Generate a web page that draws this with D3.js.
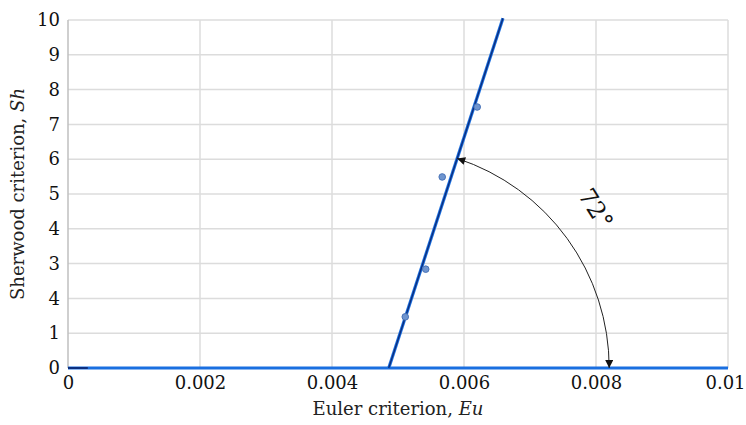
<!DOCTYPE html>
<html>
<head>
<meta charset="utf-8">
<script src="https://cdn.jsdelivr.net/npm/d3@7"></script>
<style>
  body { margin: 0; background: #fff; }
  svg text { font-family: "DejaVu Serif", serif; }
</style>
</head>
<body>
<svg id="chart" width="746" height="425"></svg>
<script>
// data
const xTicks = [0, 0.002, 0.004, 0.006, 0.008, 0.01];
const xTickLabels = ["0", "0.002", "0.004", "0.006", "0.008", "0.01"];
const yTicks = [0, 1, 2, 3, 4, 5, 6, 7, 8, 9, 10];
const yTickLabels = ["0", "1", "4", "3", "4", "5", "6", "7", "8", "9", "10"]; // as printed
const pointsEu = [0.00511, 0.00542, 0.00567, 0.00620];
const pointsSh = [1.47, 2.84, 5.49, 7.50];
const fitEu = [0.00486, 0.00659];
const fitSh = [0, 10.05];
const baseEu = [0, 0.01];
const baseSh = [0, 0];
const arcEndEu = 0.0082;   // where the angle arrow meets the x axis
const angleLabel = "72°";

const svg = d3.select("#chart");
const margin = {left: 68, right: 18, top: 20, bottom: 57};
const W = 746, H = 425;

const x = d3.scaleLinear().domain([0, 0.01]).range([margin.left, W - margin.right]);
const y = d3.scaleLinear().domain([0, 10]).range([H - margin.bottom, margin.top]);

// grid
svg.append("g").selectAll("line")
  .data(yTicks.slice(1))
  .join("line")
  .attr("x1", x(0)).attr("x2", x(0.01))
  .attr("y1", d => y(d)).attr("y2", d => y(d))
  .attr("stroke", "#dcdcdc").attr("stroke-width", 1.5);

svg.append("g").selectAll("line")
  .data(xTicks)
  .join("line")
  .attr("x1", d => x(d)).attr("x2", d => x(d))
  .attr("y1", y(0)).attr("y2", y(10))
  .attr("stroke", d => d === 0 ? "#bfbfbf" : "#dcdcdc").attr("stroke-width", 1.5);

// axes (labels only)
const xAxis = d3.axisBottom(x).tickValues(xTicks)
  .tickFormat((d, i) => xTickLabels[i]).tickSize(0).tickPadding(8);
svg.append("g").attr("transform", `translate(0,${y(0)})`).call(xAxis)
  .call(g => g.select(".domain").remove())
  .selectAll("text").attr("font-size", 18).attr("fill", "#111")
  .attr("font-family", "DejaVu Serif")
  .attr("dx", (d, i) => i === xTicks.length - 1 ? -3 : 0);

const yAxis = d3.axisLeft(y).tickValues(yTicks)
  .tickFormat((d, i) => yTickLabels[i]).tickSize(0).tickPadding(8);
svg.append("g").attr("transform", `translate(${x(0)},0)`).call(yAxis)
  .call(g => g.select(".domain").remove())
  .selectAll("text").attr("font-size", 18).attr("fill", "#111")
  .attr("font-family", "DejaVu Serif");

const line = d3.line().x(d => x(d[0])).y(d => y(d[1]));
const base = d3.zip(baseEu, baseSh);
const fit = d3.zip(fitEu, fitSh);

// series lines: blue under, navy trend on top
svg.append("path").datum(base).attr("d", line)
  .attr("fill", "none").attr("stroke", "#1a6fe0").attr("stroke-width", 3);
svg.append("path").datum(fit).attr("d", line)
  .attr("fill", "none").attr("stroke", "#1a6fe0").attr("stroke-width", 3.2);
svg.append("path").datum(fit).attr("d", line)
  .attr("fill", "none").attr("stroke", "#0b2f80").attr("stroke-width", 1.4);
svg.append("path").datum([[0, 0], [0.0003, 0]]).attr("d", line)
  .attr("fill", "none").attr("stroke", "#0b2f80").attr("stroke-width", 2);

// data points
svg.append("g").selectAll("circle")
  .data(d3.zip(pointsEu, pointsSh))
  .join("circle")
  .attr("cx", d => x(d[0])).attr("cy", d => y(d[1]))
  .attr("r", 3.3)
  .attr("fill", "#6f95cf").attr("stroke", "#4a74b8").attr("stroke-width", 1);

// angle arc with arrows at both ends
const defs = svg.append("defs");
defs.append("marker").attr("id", "arr")
  .attr("viewBox", "0 0 10 10").attr("refX", 10).attr("refY", 5)
  .attr("markerWidth", 14).attr("markerHeight", 8)
  .attr("markerUnits", "userSpaceOnUse")
  .attr("orient", "auto-start-reverse")
  .append("path").attr("d", "M0,0 L10,5 L0,10 Z").attr("fill", "#111");

const cx = x(fitEu[0]), cy = y(0);
const R = x(arcEndEu) - cx;
const ang = Math.atan2(y(0) - y(fitSh[1]), x(fitEu[1]) - x(fitEu[0]));
const sx = cx + R * Math.cos(ang), sy = cy - R * Math.sin(ang);
svg.append("path")
  .attr("d", `M${sx},${sy} A${R},${R} 0 0 1 ${cx + R},${cy}`)
  .attr("fill", "none").attr("stroke", "#222").attr("stroke-width", 1)
  .attr("marker-start", "url(#arr)").attr("marker-end", "url(#arr)");

svg.append("text")
  .attr("transform", `translate(${x(0.00789)},${y(4.45)}) rotate(58)`)
  .attr("text-anchor", "middle")
  .attr("font-family", "DejaVu Sans")
  .attr("font-weight", 300)
  .attr("font-size", 24).attr("fill", "#111")
  .text(angleLabel);

// axis titles
const xt = svg.append("text")
  .attr("x", (x(0) + x(0.01)) / 2).attr("y", 415)
  .attr("text-anchor", "middle").attr("font-size", 18).attr("fill", "#222");
xt.append("tspan").text("Euler criterion, ");
xt.append("tspan").attr("font-style", "italic").text("Eu");

const yt = svg.append("text")
  .attr("transform", `translate(24,${(y(0) + y(10)) / 2}) rotate(-90)`)
  .attr("text-anchor", "middle").attr("font-size", 18).attr("fill", "#222");
yt.append("tspan").text("Sherwood criterion, ");
yt.append("tspan").attr("font-style", "italic").text("Sh");
</script>
</body>
</html>
